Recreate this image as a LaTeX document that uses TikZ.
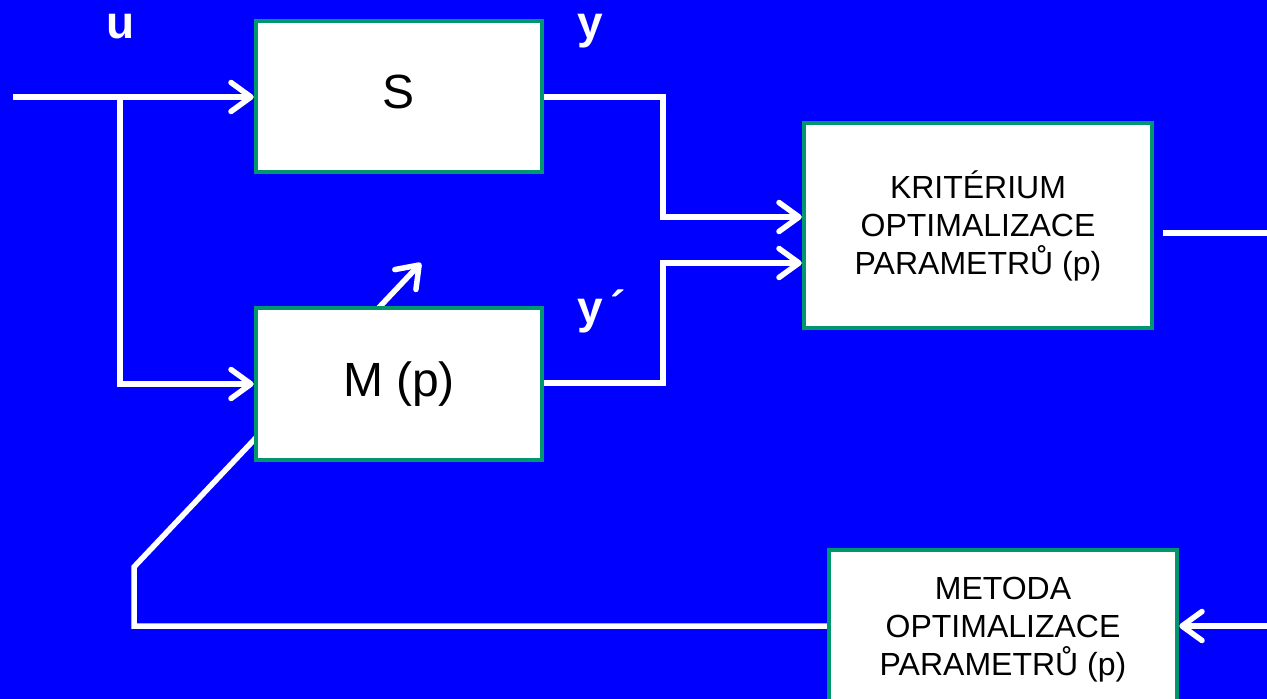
\documentclass[tikz,border=0pt]{standalone}
\usepackage{fontspec}
\setmainfont{Liberation Sans}
\usetikzlibrary{arrows.meta}
\definecolor{bg}{RGB}{0,0,255}
\definecolor{frame}{RGB}{0,150,110}
\begin{document}
\begin{tikzpicture}[x=1pt,y=-1pt,
  block/.style={draw=frame, fill=white, line width=4.5pt, inner sep=0pt},
  wire/.style={draw=white, line width=5.5pt},
  arr/.style={wire, -{Straight Barb[length=20pt,width=29pt,round]}},
  big/.style={font=\fontsize{48}{58}\selectfont},
  small/.style={font=\fontsize{32}{38}\selectfont, align=center},
  sig/.style={text=white, font=\fontsize{46}{55}\selectfont\bfseries, anchor=base, inner sep=0pt}]
\clip (0,0) rectangle (1267,699);
\fill[bg] (0,0) rectangle (1267,699);

% blocks
\node[block, big, minimum width=286pt, minimum height=151pt] (S) at (399,96.5) {\raisebox{10pt}{S}};
\node[block, small, minimum width=348pt, minimum height=205pt] (K) at (978,225.5)
  {KRITÉRIUM\\OPTIMALIZACE\\PARAMETRŮ (p)};
\node[block, small, minimum width=348pt, minimum height=160pt] (O) at (1003,630)
  {METODA\\OPTIMALIZACE\\PARAMETRŮ (p)};

% free ends
\coordinate (in) at (13,97);
\coordinate (br) at (120,97);
\coordinate (out) at (1267,233);
\coordinate (fb) at (1267,626);
\coordinate (c1) at (134,626);
\coordinate (c2) at (134,567);
\coordinate (tip) at (421,263);

% parameter adjustment line, passing under the model block
\draw[arr] (O.west |- fb) -- (c1) -- (c2) -- (tip);

\node[block, big, minimum width=286pt, minimum height=152pt] (M) at (399,384) {\raisebox{6pt}{M (p)}};

% signal connectors
\draw[arr] (in) -- (in -| S.west);
\draw[arr] (br) |- (M.west);
\draw[arr] (S.east |- in) -- (663,97) |- (K.west |- 0,217);
\draw[arr] (M.east |- 0,383) -- (663,383) |- (K.west |- 0,263);
\draw[wire] ([xshift=9pt]K.east |- out) -- (out);
\draw[arr] (fb) -- (O.east |- fb);

% signal labels
\node[sig] (lu) at (121,38) {u};
\node[sig] (ly) at (590,38) {y};
\node[sig] (lyp) at (602,323) {y\,´};
\end{tikzpicture}
\end{document}
